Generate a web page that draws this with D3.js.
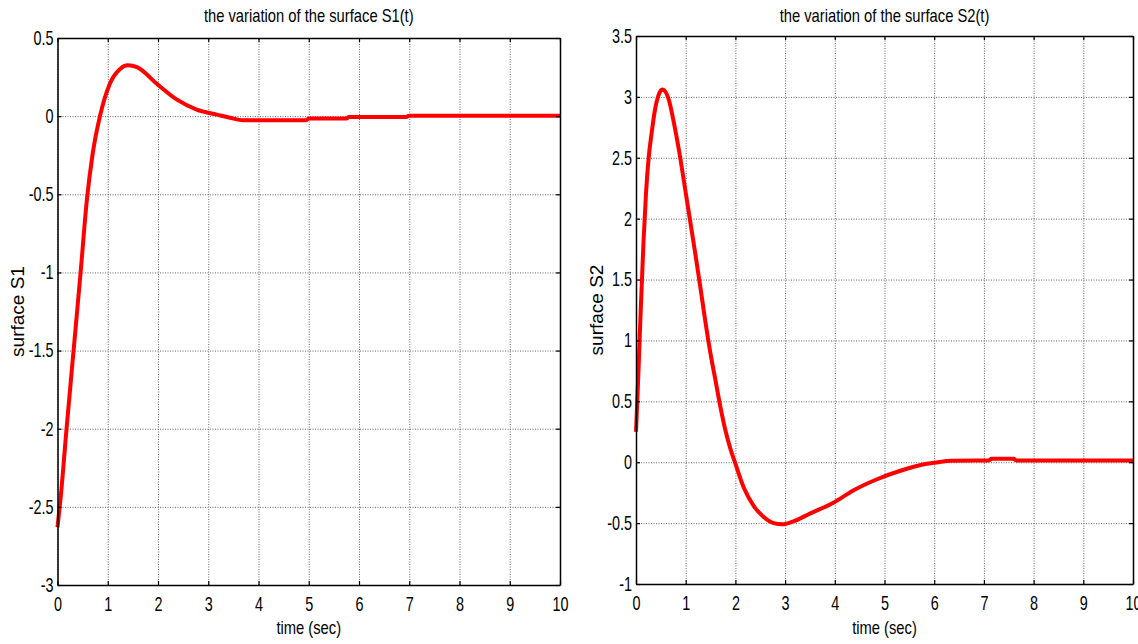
<!DOCTYPE html>
<meta charset="utf-8">
<style>
    body { margin: 0; background: #fff; }
    svg text { font-family: "Liberation Sans", Arial, sans-serif; fill: #000; }
    .grid line { stroke: #666; stroke-dasharray: 1,1.5; }
    .grid path { display: none; }
    .box path { stroke: #000; stroke-width: 1.5; }
    .box line { stroke: #000; stroke-width: 1.2; }
    .curve { fill: none; stroke: #ff0000; stroke-width: 4; stroke-linejoin: round; }
</style>
<svg width="1138" height="644"></svg>
<script src="https://d3js.org/d3.v7.min.js"></script>
<script>

    // surface S1(t)
    var s1Time = [0, 0.06, 0.18, 0.32, 0.46, 0.58, 0.70, 0.845, 1.04, 1.24, 1.4, 1.58,
        1.98, 2.37, 2.77, 3.17, 3.43, 3.7, 4.95, 5.0, 5.75, 5.8, 6.94, 7.0, 10];
    var s1Value = [-2.63, -2.45, -2.0, -1.5, -1.0, -0.55, -0.24, 0, 0.206, 0.30, 0.325, 0.314,
        0.206, 0.107, 0.042, 0.01, -0.01, -0.026, -0.026, -0.015, -0.015, -0.005, -0.005, 0.003, 0.003];

    // surface S2(t)
    var s2Time = [0, 0.05, 0.1, 0.15, 0.2, 0.25, 0.32, 0.38, 0.45, 0.53, 0.65, 0.78, 0.89,
        0.99, 1.09, 1.19, 1.29, 1.39, 1.5, 1.6, 1.7, 1.8, 1.9, 1.99, 2.17, 2.37, 2.57, 2.77, 2.94, 3.17,
        3.51, 3.98, 4.38, 4.85, 5.32, 5.85, 6.0, 6.36, 7.1, 7.15, 7.6, 7.65, 10];
    var s2Value = [0.25, 0.75, 1.3, 1.8, 2.2, 2.48, 2.72, 2.89, 3.01, 3.06, 2.99, 2.75, 2.50,
        2.24, 1.98, 1.72, 1.45, 1.17, 0.89, 0.67, 0.45, 0.26, 0.11, 0.0, -0.21, -0.36, -0.45, -0.50, -0.51, -0.485,
        -0.42, -0.33, -0.23, -0.14, -0.07, -0.013, -0.005, 0.012, 0.014, 0.028, 0.028, 0.014, 0.014];

    var xTicks = [0, 1, 2, 3, 4, 5, 6, 7, 8, 9, 10];
    var s1Ticks = [-3, -2.5, -2, -1.5, -1, -0.5, 0, 0.5];
    var s2Ticks = [-1, -0.5, 0, 0.5, 1, 1.5, 2, 2.5, 3, 3.5];

    var titles = ["the variation of the surface S1(t)", "the variation of the surface S2(t)"];
    var yLabels = ["surface S1", "surface S2"];
    var xLabel = "time (sec)";

    var svg = d3.select("svg");

    var panels = [
        {t: s1Time, v: s1Value, ticks: s1Ticks, title: titles[0], ylab: yLabels[0],
            left: 57.5, right: 560, top: 38, bottom: 585, ylabX: 24},
        {t: s2Time, v: s2Value, ticks: s2Ticks, title: titles[1], ylab: yLabels[1],
            left: 636, right: 1133, top: 36, bottom: 584, ylabX: 603}
    ];

    var squeeze = 0.72;

    panels.forEach(function (p) {
        var x = d3.scaleLinear().domain([0, 10]).range([p.left, p.right]),
            y = d3.scaleLinear().domain(d3.extent(p.ticks)).range([p.bottom, p.top]),
            w = p.right - p.left,
            h = p.bottom - p.top,
            fmt = function (d) { return String(d); };

        // dotted grid
        svg.append("g").attr("class", "grid")
            .attr("transform", "translate(0," + p.bottom + ")")
            .call(d3.axisBottom(x).tickValues(xTicks).tickSize(-h).tickFormat(""));
        svg.append("g").attr("class", "grid")
            .attr("transform", "translate(" + p.left + ",0)")
            .call(d3.axisLeft(y).tickValues(p.ticks).tickSize(-w).tickFormat(""));

        // line
        var pts = p.t.map(function (t, i) { return [t, p.v[i]]; });
        svg.append("path")
            .attr("class", "curve")
            .attr("d", d3.line()
                .x(function (d) { return x(d[0]); })
                .y(function (d) { return y(d[1]); })
                .curve(d3.curveMonotoneX)(pts));

        // box with inward ticks
        var bottomAx = svg.append("g").attr("class", "box")
            .attr("transform", "translate(0," + p.bottom + ")")
            .call(d3.axisBottom(x).tickValues(xTicks).tickSize(-4).tickSizeOuter(0)
                .tickPadding(12).tickFormat(fmt));
        bottomAx.selectAll("text")
            .attr("font-size", 20)
            .attr("transform", "scale(" + squeeze + ",1)");

        var leftAx = svg.append("g").attr("class", "box")
            .attr("transform", "translate(" + p.left + ",0)")
            .call(d3.axisLeft(y).tickValues(p.ticks).tickSize(-4).tickSizeOuter(0)
                .tickFormat(fmt));
        leftAx.selectAll("text")
            .attr("font-size", 20)
            .attr("x", null)
            .attr("transform", "translate(-4,0) scale(" + squeeze + ",1)");

        svg.append("g").attr("class", "box")
            .attr("transform", "translate(0," + p.top + ")")
            .call(d3.axisTop(x).tickValues(xTicks).tickSize(-4).tickSizeOuter(0).tickFormat(""));
        svg.append("g").attr("class", "box")
            .attr("transform", "translate(" + p.right + ",0)")
            .call(d3.axisRight(y).tickValues(p.ticks).tickSize(-4).tickSizeOuter(0).tickFormat(""));

        // labels
        var cx = (p.left + p.right) / 2;
        svg.append("text")
            .attr("transform", "translate(" + cx + ",22) scale(0.82,1)")
            .attr("text-anchor", "middle")
            .attr("font-size", 18)
            .text(p.title);
        svg.append("text")
            .attr("transform", "translate(" + cx + ",634) scale(0.82,1)")
            .attr("text-anchor", "middle")
            .attr("font-size", 18)
            .text(xLabel);
        svg.append("text")
            .attr("transform", "translate(" + p.ylabX + "," + (p.top + p.bottom) / 2 + ") rotate(-90)")
            .attr("text-anchor", "middle")
            .attr("font-size", 19)
            .text(p.ylab);
    });
</script>
